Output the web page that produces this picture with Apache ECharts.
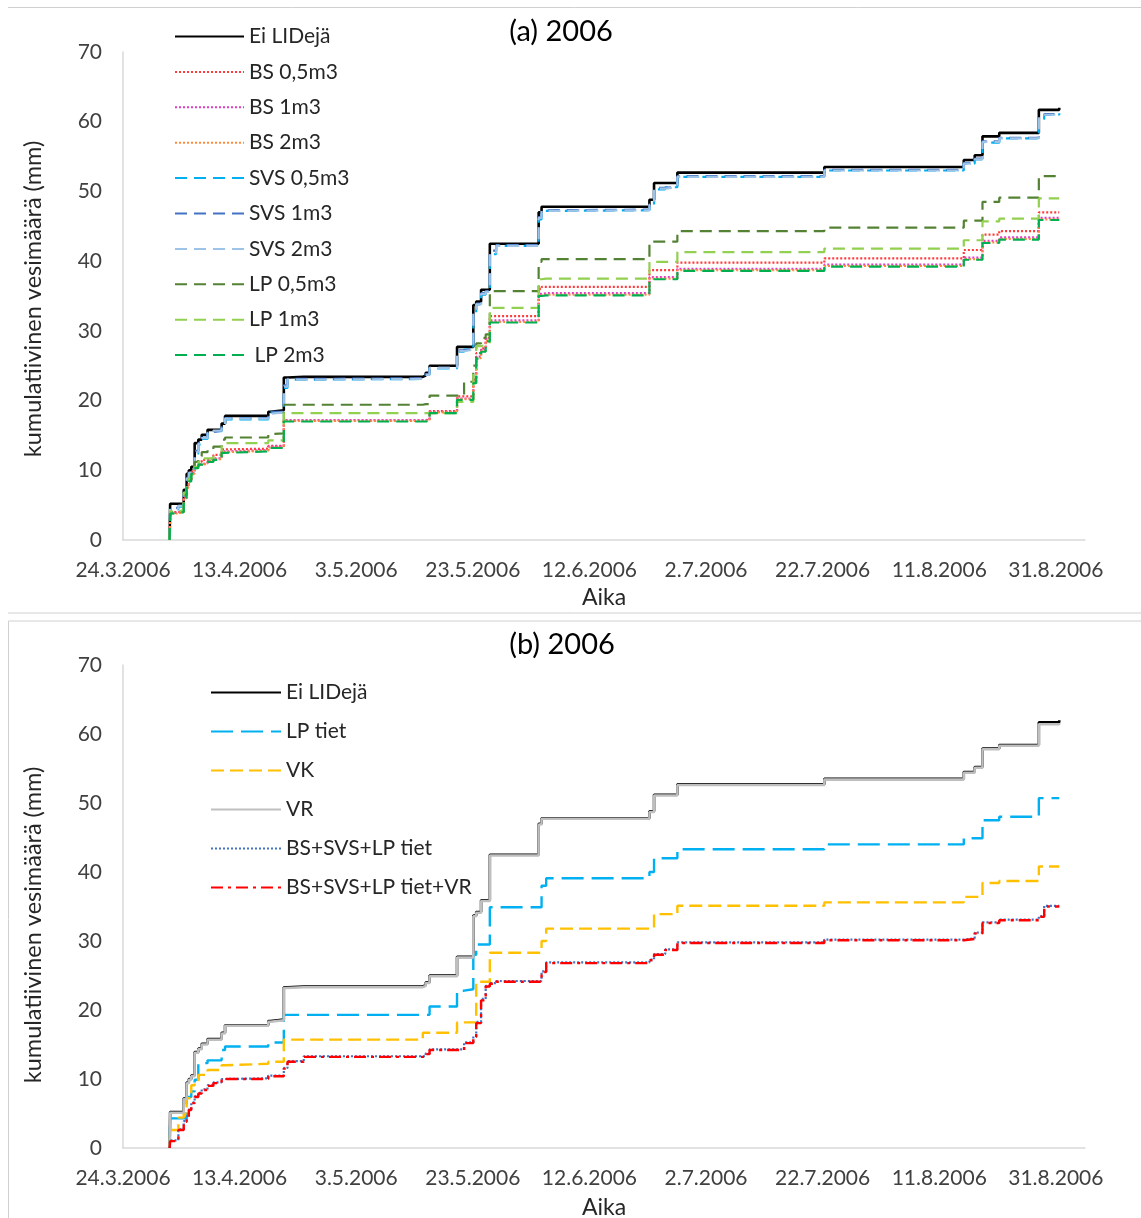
<!DOCTYPE html>
<html><head><meta charset="utf-8">
<script src="https://cdn.jsdelivr.net/npm/echarts@6/dist/echarts.min.js"></script>
<style>
html,body{margin:0;padding:0;background:#fff;}
#a{position:absolute;left:0;top:0;width:1141px;height:612px;}
#b{position:absolute;left:0;top:612px;width:1141px;height:606px;}
</style></head><body>
<div id="a"></div><div id="b"></div>
<script>
// Event dates (value holds from this date until the next one)
const dates = [
 '2006-04-01 00:00','2006-04-01 02:00','2006-04-02 12:00','2006-04-03 10:00','2006-04-03 22:00',
 '2006-04-04 07:00','2006-04-04 17:00','2006-04-05 07:00','2006-04-05 22:00','2006-04-06 12:00',
 '2006-04-07 12:00','2006-04-08 12:00','2006-04-09 22:00','2006-04-10 12:00','2006-04-17 22:00',
 '2006-04-18 07:00','2006-04-20 14:00','2006-04-21 05:00','2006-04-24 00:00','2006-05-14 10:00',
 '2006-05-14 22:00','2006-05-15 14:00','2006-05-20 07:00','2006-05-21 12:00','2006-05-23 02:00',
 '2006-05-23 14:00','2006-05-24 10:00','2006-05-25 05:00','2006-05-25 22:00','2006-05-27 00:00',
 '2006-06-03 07:00','2006-06-03 19:00','2006-06-04 14:00','2006-06-22 07:00','2006-06-23 02:00',
 '2006-06-25 00:00','2006-06-27 02:00','2006-07-22 07:00','2006-08-15 05:00','2006-08-17 02:00',
 '2006-08-18 10:00','2006-08-21 07:00','2006-08-28 02:00','2006-08-29 00:00','2006-08-31 14:00'
];

// Panel (a)
const eiLIDeja = [0,5.2,5.2,7.2,9.5,10.0,10.5,13.9,14.4,15.1,15.8,15.8,16.7,17.8,18.4,18.6,23.3,23.4,23.4,23.6,24.0,25.0,27.7,27.7,33.7,34.2,35.9,35.9,42.5,42.5,47.0,47.8,47.8,48.8,51.2,51.2,52.7,53.5,54.5,55.2,57.9,58.4,61.7,61.7,62.0];
const bs05 = [0,4.0,4.2,6.2,7.6,8.6,9.8,10.5,11.2,11.5,11.7,12.2,13.0,13.1,13.5,13.5,17.1,17.1,17.1,17.2,17.2,18.5,20.6,20.6,23.0,26.8,27.5,29.0,32.1,32.1,36.0,36.3,36.3,38.7,38.7,38.7,39.8,40.4,41.6,41.6,43.8,44.3,47.0,47.0,47.0];
const bs1 = [0,3.9,4.1,6.1,7.6,8.5,9.6,10.4,10.9,11.0,11.4,11.7,12.7,12.9,13.4,13.4,17.2,17.2,17.2,17.2,17.3,18.4,20.3,20.3,22.8,26.3,27.3,28.8,31.5,31.5,35.3,35.4,35.4,37.7,37.7,37.7,38.9,39.5,40.5,40.5,42.9,43.4,46.2,46.2,46.2];
const bs2 = [0,3.8,4.0,6.0,7.5,8.4,9.5,10.3,10.8,10.9,11.3,11.6,12.6,12.8,13.3,13.3,17.1,17.1,17.1,17.1,17.1,18.3,20.2,20.2,22.6,26.1,27.1,28.6,31.3,31.3,35.1,35.2,35.2,37.5,37.5,37.5,38.7,39.3,40.3,40.3,42.7,43.2,46.0,46.0,46.0];
const svs05 = [0,4.4,4.8,6.5,8.6,9.5,10.0,12.4,13.7,14.5,15.3,15.6,16.2,17.3,18.0,18.3,21.8,23.0,23.1,23.3,23.7,24.6,27.0,27.3,32.5,33.8,35.2,35.6,41.0,42.2,46.0,47.2,47.3,48.0,50.3,50.6,52.1,53.0,54.0,54.6,57.0,57.6,60.4,61.0,61.2];
const svs1 = [0,4.6,4.9,6.8,8.9,9.7,10.2,12.8,13.9,14.7,15.5,15.7,16.4,17.5,18.1,18.4,22.2,23.1,23.2,23.4,23.8,24.7,27.2,27.4,32.9,33.9,35.4,35.7,41.5,42.3,46.3,47.3,47.4,48.2,50.5,50.7,52.2,53.1,54.1,54.7,57.2,57.7,60.7,61.1,61.3];
const svs2 = [0,4.5,4.9,6.7,8.8,9.6,10.1,12.6,13.8,14.6,15.4,15.7,16.3,17.4,18.1,18.3,22.0,23.0,23.1,23.3,23.7,24.7,27.1,27.3,32.7,33.8,35.3,35.6,41.2,42.2,46.2,47.2,47.3,48.1,50.4,50.6,52.1,53.0,54.0,54.6,57.1,57.6,60.5,61.0,61.2];
const lp05 = [0,4.0,4.2,6.5,8.0,8.8,9.5,11.2,12.0,12.6,12.9,13.4,14.4,14.7,15.2,15.3,19.4,19.4,19.4,19.5,19.5,20.7,20.7,22.7,25.0,28.2,29.0,29.5,35.7,35.7,39.9,40.3,40.3,42.8,42.8,42.8,44.3,44.8,45.8,45.8,48.5,49.1,52.2,52.2,52.2];
const lp1 = [0,4.1,4.3,6.8,8.2,8.8,9.4,10.5,11.2,11.7,11.7,12.0,13.6,13.9,14.3,14.3,18.2,18.2,18.2,18.2,18.2,18.2,19.8,19.8,24.0,27.8,28.0,28.2,33.3,33.3,37.4,37.5,37.5,39.9,39.9,39.9,41.3,41.8,43.0,43.0,45.7,46.1,49.0,49.0,49.0];
const lp2 = [0,3.8,4.0,6.0,7.5,8.4,9.5,10.3,10.8,10.8,11.2,11.5,12.5,12.7,13.2,13.2,17.0,17.0,17.0,17.0,17.0,18.2,20.1,20.1,22.5,26.0,27.0,28.5,31.2,31.2,35.0,35.1,35.1,37.4,37.4,37.4,38.6,39.2,40.2,40.2,42.6,43.1,45.9,45.9,45.9];

// Panel (b)
const lpTiet = [0,4.3,4.3,4.3,7.4,7.4,8.2,9.9,12.3,12.3,12.7,12.7,14.2,14.7,15.3,15.3,19.3,19.3,19.3,19.3,19.3,20.5,22.8,23.0,28.0,29.5,29.5,29.5,34.9,34.9,34.9,38.0,39.1,40.0,42.0,42.0,43.3,44.0,44.9,44.9,47.5,48.0,50.7,50.7,50.8];
const vk = [0,2.6,4.4,5.0,7.2,7.2,9.1,9.5,10.6,10.6,11.3,11.3,12.0,12.2,12.5,12.5,15.7,15.7,15.7,16.7,16.7,16.7,18.2,18.2,18.2,24.1,24.1,24.1,28.3,28.3,28.3,30.0,31.8,31.8,33.9,33.9,35.1,35.6,36.4,36.4,38.4,38.7,40.8,40.8,40.9];
const vr = [0,5.1,5.1,7.1,9.4,9.9,10.4,13.8,14.3,15.0,15.7,15.7,16.6,17.7,18.3,18.5,23.2,23.3,23.3,23.5,23.9,24.9,27.6,27.6,33.6,34.1,35.8,35.8,42.4,42.4,46.9,47.7,47.7,48.7,51.1,51.1,52.6,53.4,54.4,55.1,57.8,58.3,61.4,61.4,61.6];
const bsSvsLp = [0,1.1,2.7,3.9,4.6,5.6,6.6,7.5,8.0,8.5,9.1,9.5,10.0,10.1,10.5,10.5,11.6,12.6,13.3,13.3,13.7,14.3,14.3,15.3,16.2,18.3,21.6,23.5,23.9,24.2,24.2,25.6,26.9,27.3,28.1,28.8,29.8,30.2,30.4,31.2,32.7,33.1,33.6,35.1,35.2];
const bsSvsLpVr = [0,1.0,2.6,3.8,4.5,5.5,6.5,7.4,7.9,8.4,9.0,9.4,10.0,10.0,10.4,10.4,11.5,12.5,13.2,13.2,13.6,14.2,14.2,15.2,16.1,18.1,21.4,23.4,23.8,24.1,24.1,25.5,26.8,27.2,28.0,28.7,29.7,30.1,30.3,31.1,32.6,33.0,33.5,35.0,35.1];

const yTicks = [0,10,20,30,40,50,60,70];
const xTickStart = '2006-03-24';   // first tick, then every 20 days

const FONT = 'Lato';
const BASE = Date.UTC(2006,2,24);
function toDay(s){
  const [d,t] = s.split(' ');
  const [y,m,dd] = d.split('-').map(Number);
  const [h,mi] = (t||'00:00').split(':').map(Number);
  return (Date.UTC(y,m-1,dd,h,mi) - BASE)/86400000;
}
const xDays = dates.map(toDay);
function fmt(v){
  if (Math.abs(v % 20) > 1e-6) return '';
  const dt = new Date(BASE + v*86400000);
  return dt.getUTCDate()+'.'+(dt.getUTCMonth()+1)+'.'+dt.getUTCFullYear();
}
function mk(name, vals, color, type, width){
  return {
    name, type:'line', step:'end', symbol:'none', showSymbol:false,
    data: xDays.map((x,i)=>[x, vals[i]]),
    lineStyle:{color, width, type, cap:'butt'},
    itemStyle:{color},
    emphasis:{disabled:true}, animation:false
  };
}
function axes(aikaGap){
  return {
    xAxis:{
      type:'value', min: toDay(xTickStart+' 00:00'), max:165, interval:20,
      name:'Aika', nameLocation:'middle', nameGap:aikaGap,
      nameTextStyle:{fontFamily:FONT, fontSize:23, color:'#262626'},
      axisLine:{show:true, lineStyle:{color:'#d9d9d9', width:1.5}},
      axisTick:{show:false}, splitLine:{show:false},
      axisLabel:{formatter:fmt, fontFamily:FONT, fontSize:21, color:'#404040', margin:20, showMaxLabel:false}
    },
    yAxis:{
      type:'value', min:yTicks[0], max:yTicks[yTicks.length-1], interval:10,
      axisLine:{show:true, lineStyle:{color:'#d9d9d9', width:1.5}},
      axisTick:{show:false}, splitLine:{show:false},
      axisLabel:{fontFamily:FONT, fontSize:21, color:'#404040', margin:21}
    }
  };
}
function legend(names, left, top, gap, w){
  return {
    orient:'vertical', left, top, padding:0, itemWidth:w, itemHeight:14, itemGap:gap,
    data:names, selectedMode:false,
    itemStyle:{opacity:0, color:'rgba(0,0,0,0)', borderWidth:0},
    textStyle:{fontFamily:FONT, fontSize:21, color:'#262626', lineHeight:20}
  };
}
const yTitle = 'kumulatiivinen vesimäärä (mm)';

const chartA = echarts.init(document.getElementById('a'), null, {renderer:'canvas'});
const namesA = ['Ei LIDejä','BS 0,5m3','BS 1m3','BS 2m3','SVS 0,5m3','SVS 1m3','SVS 2m3','LP 0,5m3','LP 1m3',' LP 2m3'];
chartA.setOption(Object.assign({
  animation:false,
  grid:{left:123, right:56, top:52, bottom:72, containLabel:false, outerBoundsMode:'none'},
  legend: legend(namesA, 174, 26, 14.4, 69),
  graphic:[
    {type:'line', shape:{x1:8,y1:7.5,x2:1141,y2:7.5}, style:{stroke:'#d0d0d0', lineWidth:1}},
    {type:'text', x:561, y:32, style:{text:'(a) 2006', fontFamily:FONT, fontSize:29, fill:'#000', align:'center', verticalAlign:'middle'}},
    {type:'text', x:33, y:299, rotation:Math.PI/2, style:{text:yTitle, fontFamily:FONT, fontSize:23.5, fill:'#262626', align:'center', verticalAlign:'middle'}}
  ],
  series:[
    mk(namesA[0], eiLIDeja, '#000000', 'solid', 2.6),
    mk(namesA[1], bs05, '#FF3B3B', [2,2], 2.2),
    mk(namesA[2], bs1, '#E03CC8', [2,2], 2.2),
    mk(namesA[3], bs2, '#FF8A3D', [2,2], 2.2),
    mk(namesA[4], svs05, '#00B0F0', [12,7], 2.2),
    mk(namesA[5], svs1, '#4472C4', [12,7], 2.2),
    mk(namesA[6], svs2, '#9DC3E6', [12,7], 2.2),
    mk(namesA[7], lp05, '#548235', [12,7], 2.2),
    mk(namesA[8], lp1, '#92D050', [12,7], 2.2),
    mk(namesA[9], lp2, '#00B050', [12,7], 2.2)
  ]
}, axes(44)));

const chartB = echarts.init(document.getElementById('b'), null, {renderer:'canvas'});
const namesB = ['Ei LIDejä','LP tiet','VK','VR','BS+SVS+LP tiet','BS+SVS+LP tiet+VR'];
chartB.setOption(Object.assign({
  animation:false,
  grid:{left:123, right:56, top:53, bottom:70, containLabel:false, outerBoundsMode:'none'},
  legend: legend(namesB, 210, 70, 18, 70),
  graphic:[
    {type:'line', shape:{x1:8,y1:1,x2:1141,y2:1}, style:{stroke:'#d0d0d0', lineWidth:1}},
    {type:'line', shape:{x1:8.5,y1:9,x2:1141,y2:9}, style:{stroke:'#d0d0d0', lineWidth:1}},
    {type:'line', shape:{x1:8.5,y1:9,x2:8.5,y2:606}, style:{stroke:'#d0d0d0', lineWidth:1}},
    {type:'text', x:562, y:33, style:{text:'(b) 2006', fontFamily:FONT, fontSize:29, fill:'#000', align:'center', verticalAlign:'middle'}},
    {type:'text', x:33, y:313, rotation:Math.PI/2, style:{text:yTitle, fontFamily:FONT, fontSize:23.5, fill:'#262626', align:'center', verticalAlign:'middle'}}
  ],
  series:[
    mk(namesB[0], eiLIDeja, '#000000', 'solid', 2.6),
    mk(namesB[1], lpTiet, '#00B0F0', [22,8], 2.4),
    mk(namesB[2], vk, '#FFC000', [13,6], 2.4),
    mk(namesB[3], vr, '#BFBFBF', 'solid', 2.5),
    mk(namesB[4], bsSvsLp, '#4472C4', [2,2], 2.2),
    mk(namesB[5], bsSvsLpVr, '#FF0000', [12,5,3,5], 2.4)
  ]
}, axes(48)));
</script>
</body></html>
